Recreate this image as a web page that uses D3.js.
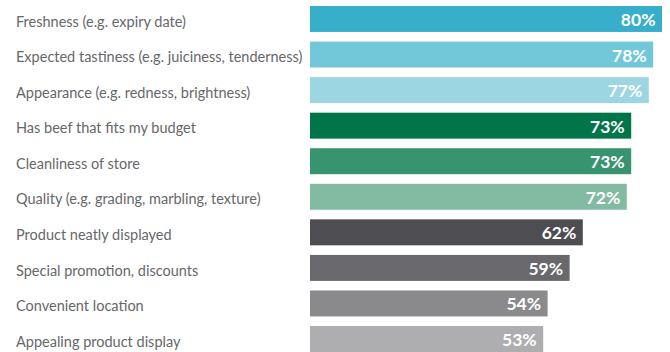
<!DOCTYPE html>
<html>
<head>
<meta charset="utf-8">
<script src="https://cdn.jsdelivr.net/npm/d3@7"></script>
<style>
  html, body { margin: 0; padding: 0; background: #fff; }
  svg { display: block; }
</style>
</head>
<body>
<svg id="chart" width="670" height="352"></svg>
<script>
// Purchase drivers and share of respondents (%)
const categories = [
  "Freshness (e.g. expiry date)",
  "Expected tastiness (e.g. juiciness, tenderness)",
  "Appearance (e.g. redness, brightness)",
  "Has beef that fits my budget",
  "Cleanliness of store",
  "Quality (e.g. grading, marbling, texture)",
  "Product neatly displayed",
  "Special promotion, discounts",
  "Convenient location",
  "Appealing product display"
];
const values = [80, 78, 77, 73, 73, 72, 62, 59, 54, 53];
const barColors = [
  "#38afca", "#72c7d9", "#9bd6e2",
  "#00754a", "#37946e", "#82bba2",
  "#4d4d52", "#68686d", "#8a8a8d", "#aeaeb0"
];

const svg = d3.select("#chart");

const x = d3.scaleLinear().domain([0, 100]).range([310, 750]);
const y = d3.scaleBand()
  .domain(categories)
  .range([6, 352])
  .paddingInner(0.27)
  .paddingOuter(0);

const rows = svg.selectAll("g.row")
  .data(categories.map((c, i) => ({ c, v: values[i], color: barColors[i] })))
  .join("g")
  .attr("class", "row");

rows.append("rect")
  .attr("x", x(0))
  .attr("y", d => y(d.c))
  .attr("width", d => x(d.v) - x(0))
  .attr("height", y.bandwidth())
  .attr("fill", d => d.color);

// category names to the left of the bars
rows.append("text")
  .attr("x", 16)
  .attr("y", d => y(d.c) + y.bandwidth() / 2 + 7.6)
  .attr("font-family", "Lato, 'Open Sans', sans-serif")
  .attr("font-size", 14.5)
  .attr("fill", "#666769")
  .text(d => d.c);

// value labels inside the bar ends
rows.append("text")
  .attr("x", d => x(d.v) - 6.5)
  .attr("y", d => y(d.c) + y.bandwidth() / 2 + 7)
  .attr("text-anchor", "end")
  .attr("font-family", "Lato, 'Open Sans', sans-serif")
  .attr("font-weight", 700)
  .attr("font-size", 17.5)
  .attr("fill", "#ffffff")
  .text(d => d.v + "%");
</script>
</body>
</html>
